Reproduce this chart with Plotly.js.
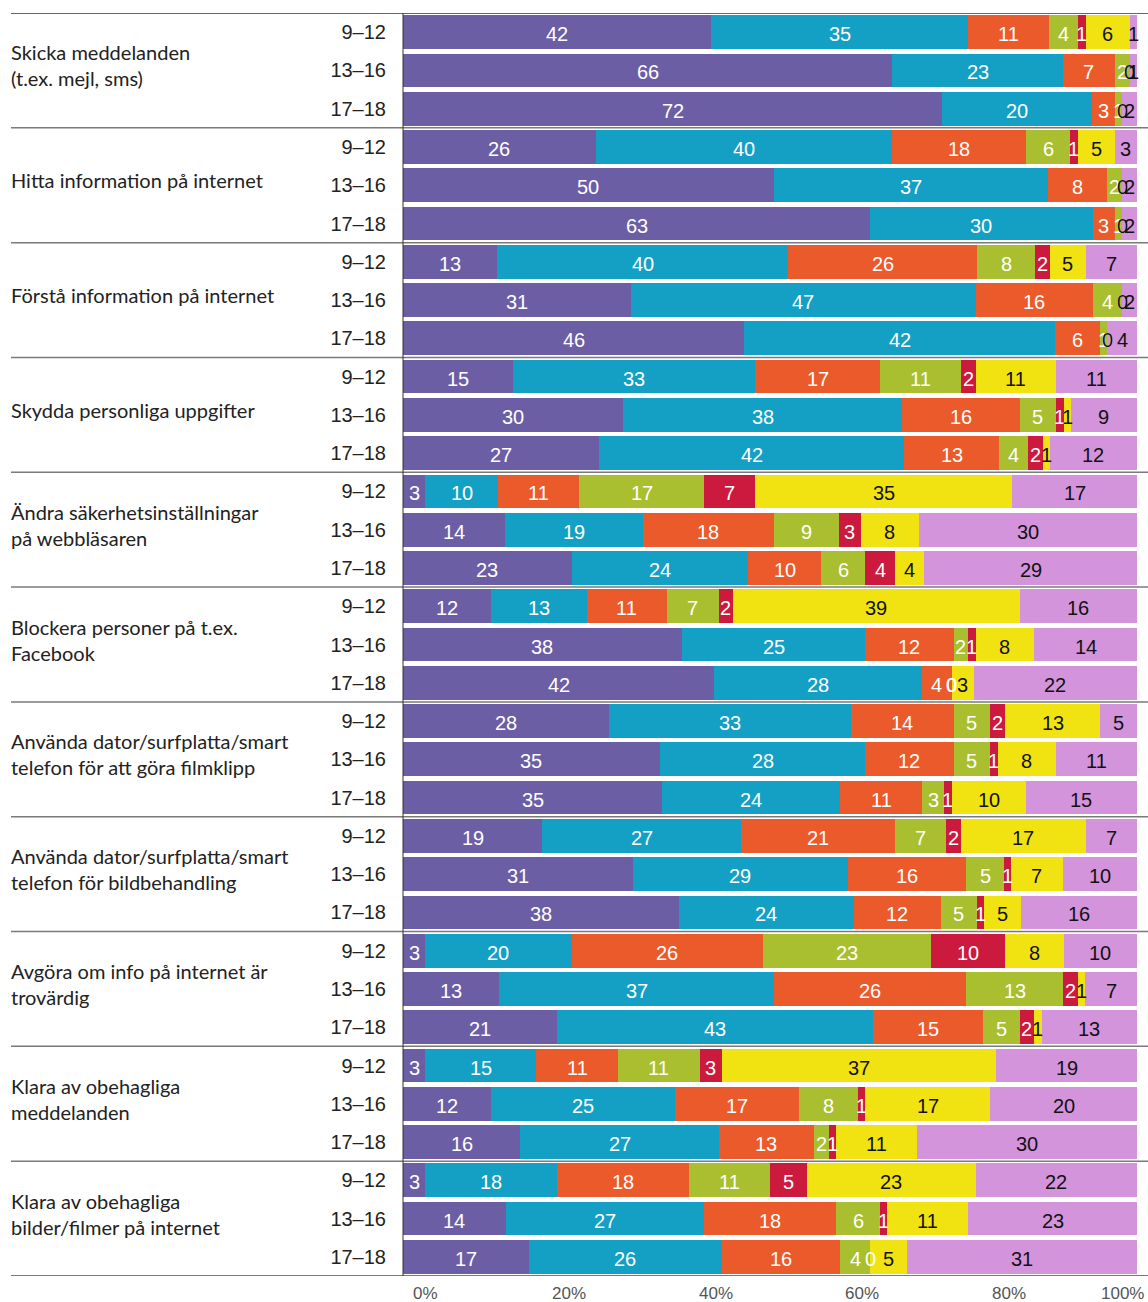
<!DOCTYPE html>
<html>
<head>
<meta charset="utf-8">
<script src="https://cdn.plot.ly/plotly-3.0.1.min.js"></script>
<style>
html,body{margin:0;padding:0;background:#fff;}
#chart{width:1148px;height:1302px;}
</style>
</head>
<body>
<div id="chart"></div>
<script>
// ---- Data ----
const groups = [
  'Skicka meddelanden<br>(t.ex. mejl, sms)',
  'Hitta information på internet',
  'Förstå information på internet',
  'Skydda personliga uppgifter',
  'Ändra säkerhetsinställningar<br>på webbläsaren',
  'Blockera personer på t.ex.<br>Facebook',
  'Använda dator/surfplatta/smart<br>telefon för att göra filmklipp',
  'Använda dator/surfplatta/smart<br>telefon för bildbehandling',
  'Avgöra om info på internet är<br>trovärdig',
  'Klara av obehagliga<br>meddelanden',
  'Klara av obehagliga<br>bilder/filmer på internet'
];
const ages = ['9–12', '13–16', '17–18'];

// one value per bar, order: group 1 (9–12, 13–16, 17–18), group 2, ...
const s1 = [42,66,72, 26,50,63, 13,31,46, 15,30,27, 3,14,23, 12,38,42, 28,35,35, 19,31,38, 3,13,21, 3,12,16, 3,14,17];
const s2 = [35,23,20, 40,37,30, 40,47,42, 33,38,42, 10,19,24, 13,25,28, 33,28,24, 27,29,24, 20,37,43, 15,25,27, 18,27,26];
const s3 = [11,7,3,   18,8,3,   26,16,6,  17,16,13, 11,18,10, 11,12,4,  14,12,11, 21,16,12, 26,26,15, 11,17,13, 18,18,16];
const s4 = [4,2,1,    6,2,1,    8,4,1,    11,5,4,   17,9,6,   7,2,0,    5,5,3,    7,5,5,    23,13,5,  11,8,2,   11,6,4];
const s5 = [1,0,0,    1,0,0,    2,0,0,    2,1,2,    7,3,4,    2,1,0,    2,1,1,    2,1,1,    10,2,2,   3,1,1,    5,1,0];
const s6 = [6,0,0,    5,0,0,    5,0,0,    11,1,1,   35,8,4,   39,8,3,   13,8,10,  17,7,5,   8,1,1,    37,17,11, 23,11,5];
const s7 = [1,1,2,    3,2,2,    7,2,4,    11,9,12,  17,30,29, 16,14,22, 5,11,15,  7,10,16,  10,7,13,  19,20,30, 22,23,31];

const tickVals = [0, 20, 40, 60, 80, 100];
const tickText = ['0%', '20%', '40%', '60%', '80%', '100%'];

// ---- Styling ----
const series = [s1, s2, s3, s4, s5, s6, s7];
const colors = ['#6c5ea5', '#149fc4', '#eb5a2b', '#a9bf2f', '#cc1a3e', '#f1e311', '#d494dc'];
const textColors = ['#ffffff', '#ffffff', '#ffffff', '#ffffff', '#ffffff', '#111111', '#111111'];

const nBars = groups.length * ages.length;
const yIdx = [];
const yText = [];
for (let g = 0; g < groups.length; g++) {
  for (let a = 0; a < ages.length; a++) { yIdx.push(g * 3 + a); yText.push(ages[a]); }
}

const traces = series.map((vals, k) => ({
  type: 'bar',
  orientation: 'h',
  x: vals,
  y: yIdx,
  marker: {color: colors[k], line: {width: 0}},
  hoverinfo: 'x',
  showlegend: false
}));

const annotations = [];
// value labels at the centre of each (normalised) segment
for (let i = 0; i < nBars; i++) {
  let total = 0;
  series.forEach(s => total += s[i]);
  let cum = 0;
  series.forEach((s, k) => {
    const v = s[i];
    const mid = (cum + v / 2) / total * 100;
    cum += v;
    annotations.push({
      x: mid, y: yIdx[i], xref: 'x', yref: 'y',
      text: String(v), showarrow: false,
      xanchor: 'center', yanchor: 'middle', yshift: -2,
      font: {family: 'Liberation Sans, Arial, sans-serif', size: 20, color: textColors[k]}
    });
  });
}
// group labels
const plotW = 1148 - 403 - 11;
groups.forEach((g, gi) => {
  annotations.push({
    x: (9 - 403) / plotW, xref: 'paper', y: gi * 3 + 1, yref: 'y',
    text: g, showarrow: false, xanchor: 'left', yanchor: 'middle', align: 'left',
    yshift: 5,
    font: {family: 'Lato, Noto Sans, sans-serif', size: 20, color: '#222'}
  });
});
// x tick labels
tickVals.forEach((v, i) => {
  const last = i === tickVals.length - 1;
  annotations.push({
    x: v, xref: 'x', y: 0, yref: 'paper', yshift: -17,
    text: tickText[i], showarrow: false,
    xanchor: last ? 'right' : 'left', xshift: last ? 9 : (i === 0 ? 8 : 0),
    yanchor: 'middle',
    font: {family: 'Liberation Sans, Arial, sans-serif', size: 17, color: '#555'}
  });
});

const shapes = [];
const xL = (11 - 403) / plotW, xR = (1148 - 403) / plotW;
for (let g = 1; g < groups.length; g++) {
  shapes.push({type: 'line', xref: 'paper', yref: 'y', x0: xL, x1: xR, y0: g * 3 - 0.5, y1: g * 3 - 0.5,
    line: {color: '#7a7a7a', width: 1.5}});
}
shapes.push({type: 'line', xref: 'paper', yref: 'y', x0: xL, x1: xR, y0: -0.5, y1: -0.5, line: {color: '#333', width: 1.5}});
shapes.push({type: 'line', xref: 'paper', yref: 'y', x0: xL, x1: xR, y0: nBars - 0.5, y1: nBars - 0.5, line: {color: '#7a7a7a', width: 2}});
shapes.push({type: 'line', xref: 'paper', yref: 'paper', x0: 0, x1: 0, y0: 0, y1: 1, line: {color: '#333', width: 1}});

const layout = {
  width: 1148, height: 1302,
  margin: {l: 403, r: 11, t: 13, b: 26, pad: 0},
  paper_bgcolor: '#fff', plot_bgcolor: '#fff',
  barmode: 'stack', barnorm: 'percent', bargap: 0.12,
  xaxis: {range: [0, 100], showgrid: false, zeroline: false, showticklabels: false, ticks: '', fixedrange: true},
  yaxis: {
    range: [nBars - 0.5, -0.5], autorange: false,
    tickvals: yIdx, ticktext: yText, ticks: '', ticklabelstandoff: 16,
    showgrid: false, zeroline: false, showline: false,
    tickfont: {family: 'Liberation Sans, Arial, sans-serif', size: 20, color: '#222'}
  },
  annotations: annotations,
  shapes: shapes,
  showlegend: false
};

Plotly.newPlot('chart', traces, layout, {displayModeBar: false, staticPlot: true});
</script>
</body>
</html>
